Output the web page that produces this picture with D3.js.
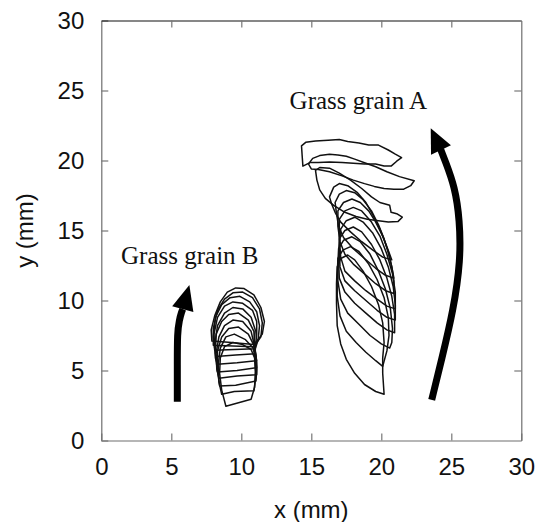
<!DOCTYPE html>
<html>
<head>
<meta charset="utf-8">
<script src="https://cdn.jsdelivr.net/npm/d3@7"></script>
<style>
  html, body { margin: 0; padding: 0; background: #fff; }
  svg { display: block; }
</style>
</head>
<body>
<svg id="chart" width="544" height="522"></svg>
<script>
// Axis ticks (mm)
const xTicks = [0, 5, 10, 15, 20, 25, 30];
const yTicks = [0, 5, 10, 15, 20, 25, 30];

// Traced outlines of grass grain A, one closed loop per frame, [x, y] in mm
const grainA = [
  [[14.3,21.05],[14.6,21.3],[15.3,21.4],[16.2,21.45],[17.0,21.5],[17.6,21.35],[18.4,21.25],[19.1,21.1],[19.8,21.1],[20.5,20.75],[21.0,20.45],[21.45,20.2],[21.1,19.95],[20.7,19.6],[20.2,19.6],[19.6,19.75],[18.8,19.75],[18.0,19.8],[17.2,19.85],[16.3,19.9],[15.5,19.85],[14.9,19.85],[14.4,19.6],[14.35,20.3]],
  [[14.8,19.75],[15.1,20.15],[15.6,20.35],[16.3,20.45],[16.9,20.4],[17.5,20.3],[18.1,20.1],[18.9,19.8],[19.6,19.55],[20.4,19.2],[21.3,18.85],[22.35,18.55],[22.1,18.2],[21.6,17.95],[20.9,17.95],[20.2,18.0],[19.5,18.15],[18.8,18.35],[18.0,18.6],[17.2,18.9],[16.3,19.2],[15.5,19.35],[15.0,19.4]],
  [[15.3,19.3],[15.6,19.5],[16.3,19.45],[17.0,19.1],[17.8,18.6],[18.6,18.0],[19.3,17.4],[19.9,17.0],[20.6,16.8],[20.7,16.3],[21.1,16.2],[21.5,15.95],[21.2,15.65],[20.5,15.6],[19.8,15.7],[19.0,15.8],[18.2,16.0],[17.4,16.3],[16.6,16.8],[16.0,17.3],[15.6,17.9],[15.4,18.6]],
  [[16.3,17.4],[16.6,18.1],[17.0,18.35],[17.6,18.2],[18.3,17.7],[18.9,17.0],[19.4,16.1],[19.9,15.1],[20.3,14.1],[20.75,12.9],[20.1,13.1],[19.4,13.6],[18.6,14.2],[17.8,14.9],[17.1,15.6],[16.7,16.3],[16.45,16.9]],
  [[16.7,17.0],[17.0,17.6],[17.5,17.85],[18.1,17.7],[18.7,17.2],[19.3,16.4],[19.8,15.4],[20.2,14.4],[20.5,13.4],[20.75,12.4],[20.9,11.6],[20.3,11.8],[19.6,12.3],[18.8,13.0],[18.0,13.7],[17.3,14.5],[16.95,15.3],[16.8,16.2]],
  [[16.9,16.4],[17.3,17.0],[17.9,17.25],[18.5,17.0],[19.1,16.4],[19.6,15.6],[20.1,14.6],[20.5,13.5],[20.75,12.4],[20.9,11.4],[20.9,10.5],[20.3,10.7],[19.6,11.2],[18.8,11.9],[18.0,12.6],[17.4,13.3],[17.05,14.2],[16.9,15.3]],
  [[17.0,15.8],[17.4,16.4],[18.0,16.65],[18.6,16.4],[19.3,15.6],[19.9,14.6],[20.4,13.3],[20.8,11.9],[21.0,10.6],[21.0,9.4],[20.4,9.6],[19.7,10.1],[18.9,10.7],[18.1,11.4],[17.4,12.1],[17.1,13.1],[17.0,14.5]],
  [[17.1,15.1],[17.5,15.7],[18.1,15.95],[18.7,15.6],[19.4,14.8],[20.0,13.7],[20.5,12.4],[20.85,11.0],[21.0,9.7],[21.0,8.6],[20.4,8.8],[19.7,9.3],[18.9,10.0],[18.1,10.7],[17.4,11.4],[17.05,12.4],[17.0,13.8]],
  [[17.0,14.4],[17.4,15.0],[18.0,15.25],[18.6,14.9],[19.3,14.0],[19.9,12.9],[20.4,11.6],[20.75,10.3],[20.95,9.0],[20.95,7.7],[20.4,7.9],[19.7,8.4],[18.9,9.1],[18.1,9.8],[17.4,10.6],[17.0,11.6],[16.95,12.9]],
  [[16.95,13.7],[17.3,14.3],[17.9,14.55],[18.5,14.2],[19.2,13.3],[19.8,12.1],[20.3,10.8],[20.65,9.4],[20.8,8.0],[20.75,7.0],[20.6,6.6],[20.0,6.9],[19.2,7.5],[18.4,8.3],[17.6,9.1],[17.1,10.1],[16.9,11.4],[16.9,12.6]],
  [[16.9,13.0],[17.25,13.6],[17.8,13.85],[18.4,13.5],[19.1,12.6],[19.7,11.5],[20.2,10.2],[20.5,8.8],[20.55,7.5],[20.4,6.4],[20.1,5.3],[19.6,5.7],[18.9,6.3],[18.2,7.0],[17.5,7.8],[17.05,8.9],[16.85,10.3],[16.85,11.7]],
  [[16.85,12.4],[17.1,13.0],[17.6,13.25],[18.1,12.9],[18.7,12.1],[19.3,11.0],[19.8,9.7],[20.1,8.4],[20.2,7.0],[20.1,5.9],[20.1,4.8],[20.2,3.3],[19.6,3.5],[18.8,4.0],[18.1,4.8],[17.5,5.8],[17.1,6.9],[16.85,8.2],[16.8,9.8],[16.8,11.2]]
];

// Traced outlines of grass grain B
const grainB = [
  [[8.9,2.45],[9.8,2.7],[10.7,2.95],[10.95,3.8],[11.0,4.9],[10.95,5.9],[10.7,6.5],[10.1,6.85],[9.4,7.0],[8.8,6.7],[8.5,5.9],[8.45,4.8],[8.6,3.6]],
  [[8.6,3.3],[9.5,3.5],[10.9,3.55],[11.05,4.6],[11.0,5.8],[10.85,6.6],[10.3,7.2],[9.5,7.6],[8.9,7.4],[8.5,6.6],[8.35,5.4],[8.4,4.2]],
  [[8.45,3.9],[9.6,3.95],[11.05,4.25],[11.1,5.1],[11.0,6.2],[10.9,6.8],[10.5,7.6],[9.8,8.1],[9.1,8.0],[8.6,7.4],[8.3,6.4],[8.3,5.0]],
  [[8.4,4.45],[9.7,4.6],[11.1,4.7],[11.1,5.6],[10.95,6.7],[10.7,7.8],[10.1,8.5],[9.4,8.6],[8.8,8.2],[8.4,7.4],[8.2,6.2],[8.25,5.1]],
  [[8.3,4.9],[9.7,5.0],[11.1,5.2],[11.05,6.0],[10.95,6.8],[10.9,7.8],[10.5,8.6],[9.8,9.1],[9.1,9.0],[8.6,8.5],[8.2,7.6],[8.15,6.2]],
  [[8.3,5.45],[9.7,5.55],[11.1,5.7],[11.0,6.3],[10.9,6.8],[11.0,7.9],[10.7,8.8],[10.1,9.4],[9.4,9.5],[8.8,9.1],[8.3,8.2],[8.1,6.8],[8.15,5.9]],
  [[8.2,6.0],[9.6,6.1],[11.0,6.2],[11.0,6.6],[11.1,7.6],[11.1,8.5],[10.8,9.3],[10.1,9.8],[9.4,9.9],[8.8,9.6],[8.3,8.8],[8.05,7.6],[8.1,6.6]],
  [[8.1,6.45],[9.5,6.5],[11.0,6.55],[11.2,7.2],[11.3,8.2],[11.1,9.2],[10.6,9.9],[9.9,10.3],[9.2,10.2],[8.6,9.7],[8.15,8.8],[8.0,7.4]],
  [[8.0,6.8],[9.4,6.75],[10.9,6.7],[11.4,7.4],[11.5,8.4],[11.3,9.4],[10.8,10.2],[10.1,10.6],[9.4,10.55],[8.8,10.1],[8.3,9.3],[8.0,8.0]],
  [[7.9,7.1],[9.3,7.0],[10.9,6.85],[11.5,7.6],[11.65,8.5],[11.4,9.5],[10.9,10.4],[10.2,10.85],[9.6,10.9],[9.0,10.6],[8.5,9.9],[8.1,8.9],[7.85,7.9]]
];

// Direction-of-motion arrows: shaft waypoints and head tip, in mm
const arrowA = { shaft: [[23.6,2.9],[24.3,5.75],[25.15,9.3],[25.67,12.9],[25.6,15.75],[25.26,18.1],[24.55,20.0],[24.24,20.8]], tip: [23.53,22.3] };
const arrowB = { shaft: [[5.43,2.77],[5.43,5.5],[5.43,7.68],[5.57,8.6],[5.74,9.2],[5.82,9.38]], tip: [6.29,11.1] };

// Text annotations
const labels = [
  { text: "Grass grain A", at: [13.45, 23.65] },
  { text: "Grass grain B", at: [1.41, 12.6] }
];

const svg = d3.select("#chart");
const plotLeft = 101.3, plotRight = 521.3, plotTop = 20.5, plotBottom = 440.5;

const x = d3.scaleLinear().domain([0, 30]).range([plotLeft, plotRight]);
const y = d3.scaleLinear().domain([0, 30]).range([plotBottom, plotTop]);

const tickFont = "'Liberation Sans', Arial, Helvetica, sans-serif";

function styleAxis(g, color) {
  g.attr("font-family", null).attr("font-size", null);
  g.select(".domain").attr("stroke", color).attr("stroke-width", 1.2);
  g.selectAll(".tick line").attr("stroke", "#777").attr("stroke-width", 1.2);
  g.selectAll(".tick text")
    .attr("font-family", tickFont).attr("font-size", 24).attr("fill", "#111");
}

// Bottom axis with labels, inward ticks
svg.append("g")
  .attr("transform", `translate(0,${plotBottom})`)
  .call(d3.axisBottom(x).tickValues(xTicks).tickSizeInner(-7).tickSizeOuter(0).tickPadding(17).tickFormat(d3.format("d")))
  .call(g => styleAxis(g, "#6e6e6e"));

// Left axis with labels
svg.append("g")
  .attr("transform", `translate(${plotLeft},0)`)
  .call(d3.axisLeft(y).tickValues(yTicks).tickSizeInner(-7).tickSizeOuter(0).tickPadding(17).tickFormat(d3.format("d")))
  .call(g => styleAxis(g, "#6e6e6e"));

// Top and right edges of the frame, ticks only
svg.append("g")
  .attr("transform", `translate(0,${plotTop})`)
  .call(d3.axisTop(x).tickValues(xTicks.slice(1, -1)).tickSizeInner(-7).tickSizeOuter(0).tickFormat(""))
  .call(g => styleAxis(g, "#111"));

svg.append("g")
  .attr("transform", `translate(${plotRight},0)`)
  .call(d3.axisRight(y).tickValues(yTicks.slice(1, -1)).tickSizeInner(-7).tickSizeOuter(0).tickFormat(""))
  .call(g => styleAxis(g, "#6e6e6e"));

// Axis titles
svg.append("text")
  .attr("x", (plotLeft + plotRight) / 2).attr("y", 518)
  .attr("text-anchor", "middle")
  .attr("font-family", tickFont).attr("font-size", 24).attr("fill", "#111")
  .text("x (mm)");

svg.append("text")
  .attr("transform", `translate(33,${(plotTop + plotBottom) / 2}) rotate(-90)`)
  .attr("text-anchor", "middle")
  .attr("font-family", tickFont).attr("font-size", 24).attr("fill", "#111")
  .text("y (mm)");

// Grain outlines
const outline = d3.line().x(d => x(d[0])).y(d => y(d[1])).curve(d3.curveLinearClosed);

const marks = svg.append("g").attr("fill", "none").attr("stroke", "#111")
  .attr("stroke-width", 1.5).attr("stroke-linejoin", "round");

marks.selectAll("path.grainA").data(grainA).join("path")
  .attr("class", "grainA").attr("d", outline);
marks.selectAll("path.grainB").data(grainB).join("path")
  .attr("class", "grainB").attr("d", outline);

// Arrows
const shaftLine = d3.line().x(d => x(d[0])).y(d => y(d[1])).curve(d3.curveBasis);

function drawArrow(a, headLen, headWidth) {
  svg.append("path")
    .attr("d", shaftLine(a.shaft))
    .attr("fill", "none").attr("stroke", "#000").attr("stroke-width", 7);
  const last = a.shaft[a.shaft.length - 1];
  const tx = x(a.tip[0]), ty = y(a.tip[1]);
  const bx = x(last[0]), by = y(last[1]);
  let dx = tx - bx, dy = ty - by;
  const len = Math.hypot(dx, dy);
  dx /= len; dy /= len;
  const baseX = tx - dx * headLen, baseY = ty - dy * headLen;
  const px = -dy * headWidth / 2, py = dx * headWidth / 2;
  svg.append("path")
    .attr("d", `M${tx},${ty}L${baseX + px},${baseY + py}L${baseX - px},${baseY - py}Z`)
    .attr("fill", "#000");
}
drawArrow(arrowA, 24, 22);
drawArrow(arrowB, 25, 22);

// Annotations
svg.selectAll("text.note").data(labels).join("text")
  .attr("class", "note")
  .attr("x", d => x(d.at[0])).attr("y", d => y(d.at[1]))
  .attr("font-family", "'Liberation Serif', 'Times New Roman', serif")
  .attr("font-size", 25).attr("fill", "#111")
  .text(d => d.text);
</script>
</body>
</html>
